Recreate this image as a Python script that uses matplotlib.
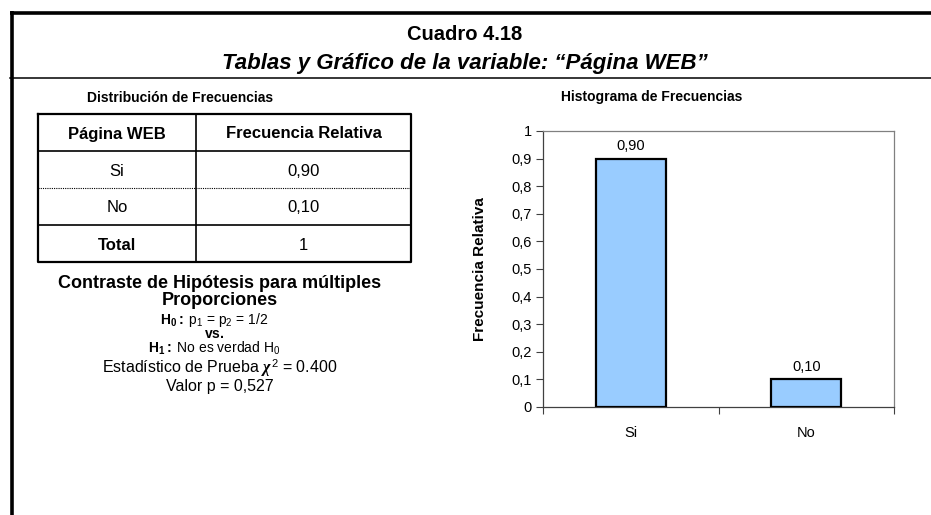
import numpy as np
import matplotlib
matplotlib.use("Agg")
import matplotlib.pyplot as plt

# Data
categories = ["Si", "No"]
rel_freq = [0.90, 0.10]
total_freq = 1
table_header = ["Página WEB", "Frecuencia Relativa"]
y_ticks = [0, 0.1, 0.2, 0.3, 0.4, 0.5, 0.6, 0.7, 0.8, 0.9, 1]
chi2_stat = "0.400"
p_value = "0,527"


def fmt_comma(v, dec=2):
    return f"{v:.{dec}f}".replace(".", ",")


def tick_label(v):
    if v in (0, 1):
        return str(int(v))
    return fmt_comma(v, 1)


plt.rcParams["font.family"] = ["Liberation Sans", "DejaVu Sans"]
plt.rcParams["mathtext.fontset"] = "custom"
plt.rcParams["mathtext.rm"] = "Liberation Sans"
plt.rcParams["mathtext.bf"] = "Liberation Sans:bold"
plt.rcParams["mathtext.it"] = "Liberation Serif:italic:bold"

W, H = 931, 515
fig = plt.figure(figsize=(W / 100, H / 100), dpi=100)
fig.patch.set_facecolor("white")


def box(x0, y0, x1, y1):
    # pixel box (top-left origin) -> figure fraction rect
    return [x0 / W, 1 - y1 / H, (x1 - x0) / W, (y1 - y0) / H]


# Background layer: frame lines and free text, in pixel units
bg = fig.add_axes([0, 0, 1, 1])
bg.set_xlim(0, W)
bg.set_ylim(H, 0)
bg.axis("off")
bg.plot([10, W], [12.5, 12.5], color="black", lw=2.6, solid_capstyle="butt")
bg.plot([11.5, 11.5], [11, H], color="black", lw=2.6, solid_capstyle="butt")
bg.plot([10, W], [78, 78], color="black", lw=1.1)

bg.text(465, 40, "Cuadro 4.18", ha="center", va="baseline",
        fontsize=14.5, fontweight="bold")
bg.text(465, 69, "Tablas y Gráfico de la variable: “Página WEB”",
        ha="center", va="baseline", fontsize=16, fontweight="bold",
        style="italic")
bg.text(180, 102, "Distribución de Frecuencias", ha="center",
        va="baseline", fontsize=10, fontweight="bold")
bg.text(652, 101, "Histograma de Frecuencias", ha="center",
        va="baseline", fontsize=10, fontweight="bold")

# Hypothesis test block
cx = 220
bg.text(cx, 288, "Contraste de Hipótesis para múltiples", ha="center",
        va="baseline", fontsize=13, fontweight="bold")
bg.text(cx, 305, "Proporciones", ha="center", va="baseline",
        fontsize=13, fontweight="bold")
hyp = "\n".join([
    r"$\mathbf{H_0:}$ p$_1$ = p$_2$ = 1/2",
    r"$\mathbf{vs.}$",
    r"$\mathbf{H_1:}$ No es verdad H$_0$",
])
bg.text(214, 334, hyp, ha="center", va="center", multialignment="center",
        fontsize=10, linespacing=0.85)
bg.text(cx, 373, "Estadístico de Prueba $\\chi^{2}$ = " + chi2_stat,
        ha="center", va="baseline", fontsize=11.5)
bg.text(cx, 391, "Valor p = " + p_value, ha="center", va="baseline",
        fontsize=11.5)

# Frequency table
tax = fig.add_axes(box(38, 114, 411, 262))
tax.set_xlim(0, 1)
tax.set_ylim(4, 0)
tax.axis("off")
col_split = 0.4236
rows = [table_header] + [[c, fmt_comma(v)] for c, v in zip(categories, rel_freq)] \
    + [["Total", str(total_freq)]]
lk = dict(color="black", clip_on=False, solid_capstyle="projecting")
tax.plot([0, 1, 1, 0, 0], [0, 0, 4, 4, 0], lw=1.6, **lk)
tax.plot([col_split, col_split], [0, 4], lw=1.2, **lk)
tax.plot([0, 1], [1, 1], lw=1.2, **lk)
tax.plot([0, 1], [3, 3], lw=1.2, **lk)
tax.plot([0, 1], [2, 2], lw=0.8, color="black", linestyle=(0, (1, 1)),
         clip_on=False)
col_centers = [col_split / 2, (col_split + 1) / 2]
for i, row in enumerate(rows):
    for j, txt in enumerate(row):
        bold = i == 0 or (i == len(rows) - 1 and j == 0)
        tax.text(col_centers[j], i + 0.5, txt, ha="center",
                 va="center_baseline", fontsize=12,
                 fontweight="bold" if bold else "normal")

# Bar chart
ax = fig.add_axes(box(543, 131, 894, 407))
x = np.arange(len(categories))
bars = ax.bar(x, rel_freq, width=0.4, color="#99CCFF", edgecolor="black",
              linewidth=1.6, zorder=3)
ax.bar_label(bars, labels=[fmt_comma(v) for v in rel_freq], padding=4,
             fontsize=10.5)
ax.set_xlim(-0.5, len(categories) - 0.5)
ax.set_ylim(0, 1)
ax.set_yticks(y_ticks, [tick_label(v) for v in y_ticks])
ax.set_xticks(x, categories)
ax.set_xticks(np.arange(len(categories) + 1) - 0.5, minor=True)
ax.tick_params(axis="y", direction="out", length=5, width=0.8,
               color="#404040", labelsize=10.5, pad=3)
ax.tick_params(axis="x", which="major", length=0, pad=14, labelsize=10.5)
ax.tick_params(axis="x", which="minor", direction="out", length=5,
               width=0.8, color="#404040")
for side in ("top", "right"):
    ax.spines[side].set_color("#808080")
    ax.spines[side].set_linewidth(0.9)
for side in ("left", "bottom"):
    ax.spines[side].set_color("#404040")
    ax.spines[side].set_linewidth(0.9)
ax.set_ylabel("Frecuencia Relativa", fontsize=11, fontweight="bold")
ax.yaxis.set_label_coords(-0.16, 0.5)

fig.savefig("out.png", dpi=100, facecolor="white")
